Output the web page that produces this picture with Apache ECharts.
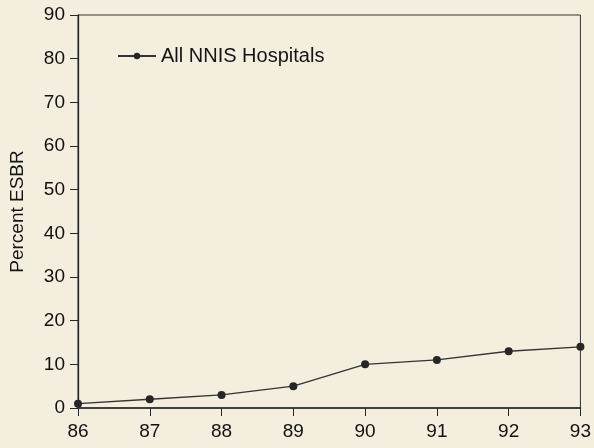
<!DOCTYPE html>
<html>
<head>
<meta charset="utf-8">
<script src="https://cdn.jsdelivr.net/npm/echarts@6/dist/echarts.min.js"></script>
<style>
  html, body { margin: 0; padding: 0; background: #f3eedd; }
  #chart { width: 594px; height: 448px; }
</style>
</head>
<body>
<div id="chart"></div>
<script>
// data
var years = ['86', '87', '88', '89', '90', '91', '92', '93']
var allNnis = [1, 2, 3, 5, 10, 11, 13, 14]
var seriesName = 'All NNIS Hospitals'
var yName = 'Percent ESBR'

var ink = '#262626'
var font = 'Liberation Sans, Arial, sans-serif'

var myChart = echarts.init(document.getElementById('chart'))
var option = {
  backgroundColor: '#f3eedd',
  animation: false,
  grid: {
    left: 78,
    right: 12,
    top: 15,
    bottom: 40,
    show: true,
    borderColor: '#333',
    borderWidth: 1
  },
  legend: {
    left: 112,
    top: 41,
    itemWidth: 38,
    itemHeight: 8,
    itemGap: 11,
    textStyle: { color: '#151515', fontSize: 20, fontFamily: font },
    data: [seriesName]
  },
  xAxis: {
    type: 'category',
    data: years,
    boundaryGap: false,
    axisLine: { lineStyle: { color: ink, width: 1.5 } },
    axisTick: { alignWithLabel: true, length: 8, lineStyle: { color: ink } },
    axisLabel: { color: '#111', fontSize: 19, fontFamily: font, margin: 14 },
    splitLine: { show: false }
  },
  yAxis: {
    type: 'value',
    min: 0,
    max: 90,
    interval: 10,
    name: yName,
    nameLocation: 'middle',
    nameGap: 51,
    nameTextStyle: { color: '#151515', fontSize: 19, fontFamily: font },
    axisLine: { show: true, lineStyle: { color: ink, width: 1.3 } },
    axisTick: { show: true, length: 8, lineStyle: { color: ink } },
    axisLabel: { color: '#111', fontSize: 19, fontFamily: font, margin: 13 },
    splitLine: { show: false }
  },
  series: [
    {
      name: seriesName,
      type: 'line',
      data: allNnis,
      symbol: 'circle',
      symbolSize: 8,
      itemStyle: { color: '#262626' },
      lineStyle: { color: '#333', width: 1.3 }
    }
  ]
}
myChart.setOption(option)
</script>
</body>
</html>
